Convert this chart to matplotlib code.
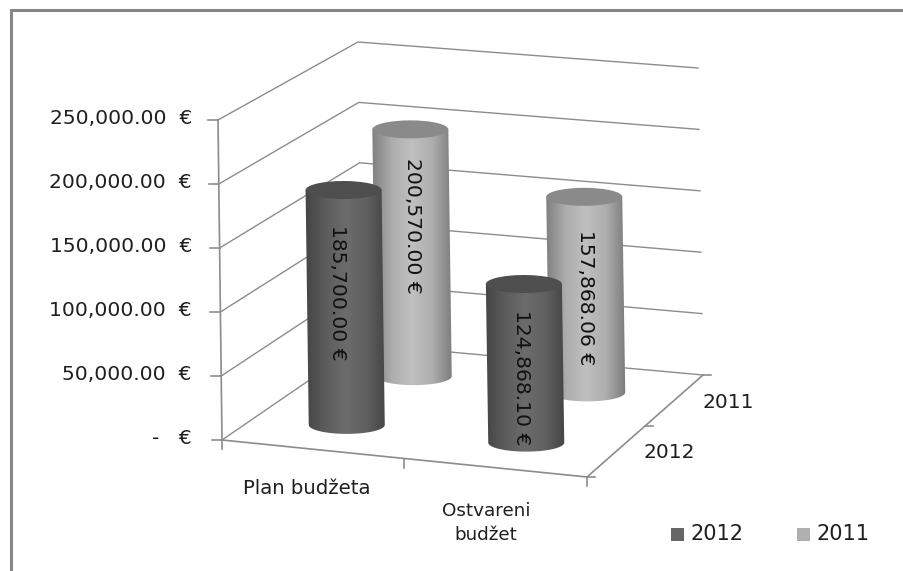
import numpy as np
import matplotlib
matplotlib.use("Agg")
import matplotlib.pyplot as plt
from matplotlib.colors import LinearSegmentedColormap
from matplotlib.patches import PathPatch, Ellipse, Rectangle
from matplotlib.path import Path

categories = ["Plan budžeta", "Ostvareni\nbudžet"]
series_names = ["2012", "2011"]
values_2012 = [185700.00, 124868.10]
values_2011 = [200570.00, 157868.06]
value_ticks = [0, 50000, 100000, 150000, 200000, 250000]
value_tick_labels = ["-   €", "50,000.00  €", "100,000.00  €", "150,000.00  €", "200,000.00  €", "250,000.00  €"]
label_2012 = ["185,700.00 €", "124,868.10 €"]
label_2011 = ["200,570.00 €", "157,868.06 €"]

W, H = 904, 571
VMAX = 250000.0
FONT = "DejaVu Sans"
GRID = "#8c8c8c"
TXT = "#1f1f1f"

fig = plt.figure(figsize=(W / 100, H / 100), dpi=100, facecolor="white")
ax = fig.add_axes([0, 0, 1, 1])
ax.set_xlim(0, W)
ax.set_ylim(H, 0)
ax.axis("off")

# box corners of the 3D scene
FLB, FRB, BLB, BRB = map(np.array, [(222, 440), (587, 477), (362, 344), (703, 375)])
FLT, FRT, BLT, BRT = map(np.array, [(218, 120), (582, 155), (358, 42), (698, 68)])


def proj(cat, val, depth):
    """cat in 0..2, depth in 0..2, val in value units -> scene position."""
    u, v, w = cat / 2, depth / 2, val / VMAX
    bot = (1 - u) * (1 - v) * FLB + u * (1 - v) * FRB + (1 - u) * v * BLB + u * v * BRB
    top = (1 - u) * (1 - v) * FLT + u * (1 - v) * FRT + (1 - u) * v * BLT + u * v * BRT
    return (1 - w) * bot + w * top


# frame: only the top and left edges are visible in the crop
ax.plot([11.5, 11.5, W], [H, 9.5, 9.5], color="#868686", lw=2.2, solid_joinstyle="miter", zorder=0.5)

# walls' gridlines
for t in value_ticks:
    pts = np.array([proj(0, t, 0), proj(0, t, 2), proj(2, t, 2)])
    ax.plot(pts[:, 0], pts[:, 1], color=GRID, lw=1.0, zorder=1)
    p = proj(0, t, 0)
    ax.plot([p[0] - 10, p[0]], [p[1], p[1]], color=GRID, lw=1.2, zorder=1)
# axes
pts = np.array([proj(0, 0, 0), proj(0, VMAX, 0)])
ax.plot(pts[:, 0], pts[:, 1], color=GRID, lw=1.2, zorder=1)
pts = np.array([proj(0, 0, 0), proj(2, 0, 0), proj(2, 0, 2)])
ax.plot(pts[:, 0], pts[:, 1], color=GRID, lw=1.2, zorder=1)
for c in [0, 1, 2]:
    p = proj(c, 0, 0)
    ax.plot([p[0], p[0]], [p[1], p[1] + 9], color=GRID, lw=1.2, zorder=1)
for d in [0, 1, 2]:
    p = proj(2, 0, d)
    ax.plot([p[0], p[0] + 8], [p[1], p[1]], color=GRID, lw=1.2, zorder=1)

dark = LinearSegmentedColormap.from_list("d", ["#454545", "#5c5c5c", "#6c6c6c", "#606060", "#444444"])
light = LinearSegmentedColormap.from_list("l", ["#7e7e7e", "#acacac", "#c0c0c0", "#aeaeae", "#7c7c7c"])
grad = np.linspace(0, 1, 128)[None, :]


def depth_z(depth, cat):
    return 5 + (2 - depth) + cat * 0.1


def cylinder(cat, depth, val, cmap, topc, text, tx_off, ty_off):
    base = proj(cat, 0, depth)
    top = proj(cat, val, depth)
    hw, hh = 38.0, 9.0
    th = np.linspace(0, np.pi, 40)
    lower = np.c_[base[0] + hw * np.cos(th), base[1] + hh * np.sin(th)]
    verts = np.vstack([[top[0] + hw, top[1]], lower, [top[0] - hw, top[1]], [top[0] + hw, top[1]]])
    clip = PathPatch(Path(verts), transform=ax.transData, fc="none", ec="none")
    ax.add_patch(clip)
    x0 = min(top[0], base[0]) - hw - 1
    x1 = max(top[0], base[0]) + hw + 1
    im = ax.imshow(grad, cmap=cmap, vmin=0, vmax=1, aspect="auto",
                   extent=(x0, x1, base[1] + hh + 2, top[1]), zorder=depth_z(depth, cat))
    im.set_clip_path(clip)
    ax.add_patch(Ellipse(top, 2 * hw, 2 * hh, fc=topc, ec="none", zorder=depth_z(depth, cat) + 0.01))
    ax.text((top[0] + base[0]) / 2 + tx_off, (top[1] + base[1]) / 2 + ty_off, text, rotation=-90,
            ha="center", va="center", fontsize=14.6, family=FONT, color="#111111", zorder=20)


ax.set_autoscale_on(False)
for i in range(2):
    cylinder(i + 0.5, 1.5, values_2011[i], light, "#8a8a8a", label_2011[i], 0, -27 if i == 0 else 3)
    cylinder(i + 0.5, 0.5, values_2012[i], dark, "#4e4e4e", label_2012[i], -8 if i == 0 else -4, -15 if i == 0 else 14)

# value labels
for t, lab in zip(value_ticks, value_tick_labels):
    p = proj(0, t, 0)
    ax.text(192, p[1] - 2, lab, ha="right", va="center", fontsize=14.6, family=FONT, color=TXT)

# category labels
ax.text(307, 488, categories[0], ha="center", va="center", fontsize=14.2, family=FONT, color=TXT)
ax.text(486, 523, categories[1], ha="center", va="center", fontsize=13.2, family=FONT, color=TXT, linespacing=1.5)

# depth labels
ax.text(669, 452, series_names[0], ha="center", va="center", fontsize=14.5, family=FONT, color=TXT)
ax.text(728, 402, series_names[1], ha="center", va="center", fontsize=14.5, family=FONT, color=TXT)

# legend
for x, name, c in zip([671, 797], series_names, ["#666666", "#b0b0b0"]):
    ax.add_patch(Rectangle((x, 528), 13, 13, fc=c, ec="none"))
    ax.text(x + 20, 534, name, ha="left", va="center", fontsize=15, family=FONT, color=TXT)

fig.savefig("out.png", dpi=100, facecolor="white")
